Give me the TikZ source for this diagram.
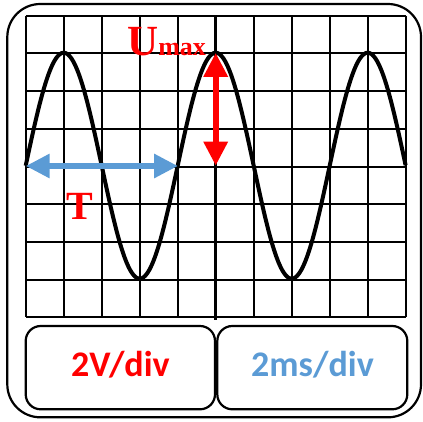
\documentclass[tikz,border=0pt]{standalone}
\usepackage{fontspec}
\setmainfont{Liberation Serif}
\newfontfamily\carl{Carlito}
\usetikzlibrary{arrows.meta}
\definecolor{oscblue}{HTML}{5B9BD5}
\definecolor{oscred}{HTML}{FF0000}
\tikzset{
  gridline/.style={line width=2pt, black},
  frame/.style={line width=2.2pt, black},
  wave/.style={line width=4pt, black, line join=round},
  scalebox/.style={line width=2.2pt, black, rounded corners=15pt},
  scaletext/.style={font=\carl\bfseries\fontsize{36}{40}\selectfont, anchor=base, inner sep=0pt},
  serlabel/.style={font=\bfseries, text=oscred, inner sep=0pt},
  dblarrow/.style={line width=6pt, {Triangle[length=24pt,width=23pt]}-{Triangle[length=24pt,width=23pt]}}
}
\begin{document}
\begin{tikzpicture}[x=1pt,y=-1pt]
\useasboundingbox (0,0) rectangle (423,421);
% outer frame
\draw[frame, rounded corners=33pt] (7.3,4) rectangle (421,417.3);
% grid
\foreach \i in {0,...,10} {
  \draw[gridline] ({25.7+38*\i},15.7) -- ({25.7+38*\i},317.3);
}
\foreach \j in {0,...,8} {
  \draw[gridline] (25.7,{15.7+37.7*\j}) -- (405.7,{15.7+37.7*\j});
}
\draw[line width=3.4pt] (215.7,15.7) -- (215.7,320);
% wave
\draw[wave] plot[domain=0:10, samples=201, smooth] ({25.7+38*\x},{165.7-113*sin(90*\x)});
% arrows
\coordinate (tL) at (25.7,166);
\coordinate (tR) at (178,166);
\coordinate (uTop) at (215.7,52.8);
\coordinate (uBot) at (215.7,165.7);
\draw[dblarrow, oscblue] (tL) -- (tR);
\draw[dblarrow, oscred] (uBot) -- (uTop);
% labels
\node[serlabel, anchor=base west] (umax) at (127,55) {\fontsize{43}{43}\selectfont U\fontsize{26}{26}\selectfont max};
\node[serlabel, anchor=base] (tlab) at (80,219.3) {\fontsize{40}{40}\selectfont T};
% scale boxes
\draw[scalebox] (25.7,326) rectangle (215,409.3);
\draw[scalebox] (217.3,326) rectangle (407.3,409.3);
\node[scaletext, text=oscred] (vdiv) at (120.4,376.7) {2V/div};
\node[scaletext, text=oscblue] (tdiv) at (312.5,376.7) {2ms/div};
\end{tikzpicture}
\end{document}
